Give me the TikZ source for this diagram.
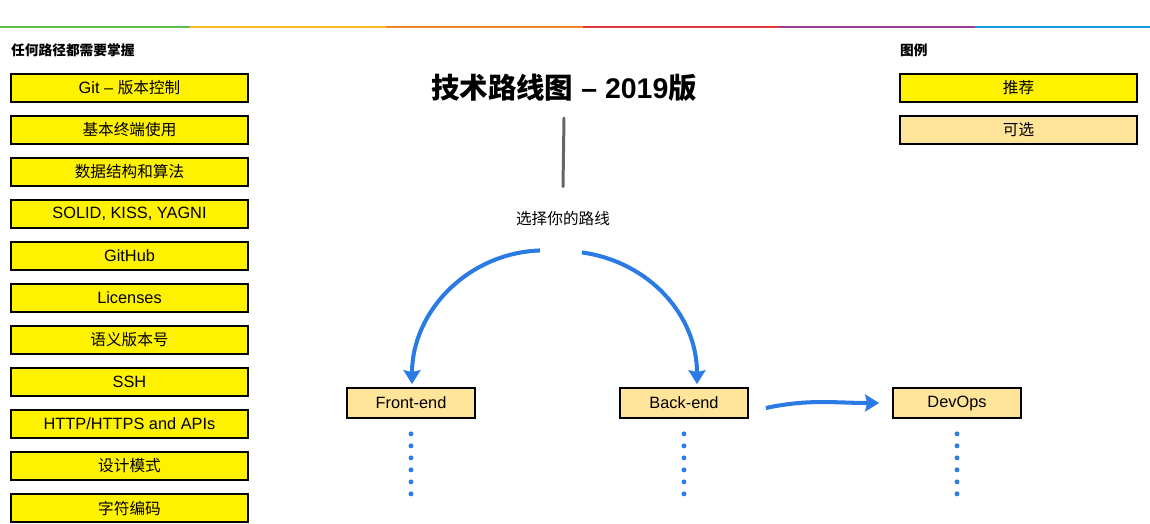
\documentclass[tikz,border=0pt]{standalone}
\usepackage{fontspec}
\setmainfont{Liberation Sans}
\newfontfamily\cjk{Noto Sans CJK SC}
\usepackage{xcolor}
\usepackage{tikz}
\usetikzlibrary{arrows, arrows.meta, positioning, calc}
\definecolor{rgreen}{HTML}{5CBF4A}
\definecolor{ryellow}{HTML}{F9BC1E}
\definecolor{rorange}{HTML}{F0862A}
\definecolor{rred}{HTML}{E0393E}
\definecolor{rpurple}{HTML}{963D97}
\definecolor{rblue}{HTML}{139CDB}
\definecolor{pathblue}{HTML}{2B7BE4}
\definecolor{optional}{HTML}{FFE59A}
\tikzstyle{must} = [draw=black, line width=1pt, fill=yellow, minimum width=4.74cm, minimum height=0.56cm, font=\fontsize{9.3}{10}\selectfont]
\tikzstyle{opt} = [draw=black, line width=1pt, fill=optional, minimum width=2.56cm, minimum height=0.6cm, font=\fontsize{9.3}{10}\selectfont]
\tikzstyle{legend} = [draw=black, line width=1pt, minimum width=4.74cm, minimum height=0.56cm, font=\cjk\fontsize{8.9}{10}\selectfont]
\tikzstyle{head} = [anchor=west, font=\cjk\bfseries\fontsize{7.8}{9}\selectfont]
\tikzstyle{arrow} = [pathblue, line width=2.3pt, ->, >={Stealth[length=0.28cm, width=0.34cm, inset=0.04cm]}]

\begin{document}
\begin{tikzpicture}[x=0.02cm, y=-0.02cm]
    \useasboundingbox (0,0) rectangle (1150,524);

    % Rainbow line on top
    \foreach \xa/\xb/\c in {0/190/rgreen, 190/386/ryellow, 386/583/rorange, 583/779/rred, 779/975/rpurple, 975/1150/rblue} {
        \draw[\c, line width=1.1pt] (\xa,27) -- (\xb,27);
    }

    % Things every path needs
    \node[head] (basics) at (5,50) {任何路径都需要掌握};
    \foreach \i/\txt in {0/{Git -- {\cjk\fontsize{8.9}{10}\selectfont 版本控制}}, 1/{\cjk\fontsize{8.9}{10}\selectfont 基本终端使用}, 2/{\cjk\fontsize{8.9}{10}\selectfont 数据结构和算法}, 3/{SOLID, KISS, YAGNI}, 4/GitHub, 5/Licenses, 6/{\cjk\fontsize{8.9}{10}\selectfont 语义版本号}, 7/SSH, 8/{HTTP/HTTPS and APIs}, 9/{\cjk\fontsize{8.9}{10}\selectfont 设计模式}, 10/{\cjk\fontsize{8.9}{10}\selectfont 字符编码}} {
        \node[must] (b\i) at (129.5,88+42*\i) {\txt};
    }

    % Legend
    \node[head] (legendhead) at (894,50) {图例};
    \node[legend, fill=yellow] (rec) at (1018.5,88) {推荐};
    \node[legend, fill=optional] (option) at (1018.5,130) {可选};

    % Title and choice
    \node[font=\bfseries\fontsize{16.2}{18}\selectfont] (title) at (564,88) {{\cjk 技术路线图} -- 2019{\cjk 版}};
    \node[font=\cjk\fontsize{8.9}{10}\selectfont] (choose) at (563,219) {选择你的路线};
    \draw[black!60, line width=1.7pt, line cap=round] ($(title.south)+(0,10)$) -- ($(choose.north)+(0,-19)$);

    % Paths
    \node[opt] (front) at (411,403) {Front-end};
    \node[opt] (back) at (684,403) {Back-end};
    \node[opt] (devops) at (957,403) {DevOps};

    \draw[arrow] ($(choose.south)+(-23,18)$) to[out=182, in=90] ($(front.north)+(1,-3)$);
    \draw[arrow] ($(choose.south)+(19,20)$) to[out=-8, in=90] ($(back.north)+(13,-3)$);
    \draw[arrow] ($(back.east)+(17,5)$) to[out=12, in=180] ($(devops.west)+(-13,0)$);

    % To be continued
    \foreach \n in {front, back, devops} {
        \foreach \k in {0,...,5} {
            \fill[pathblue] ($(\n.south)+(0,15+12*\k)$) circle[radius=1.4pt];
        }
    }
\end{tikzpicture}
\end{document}
